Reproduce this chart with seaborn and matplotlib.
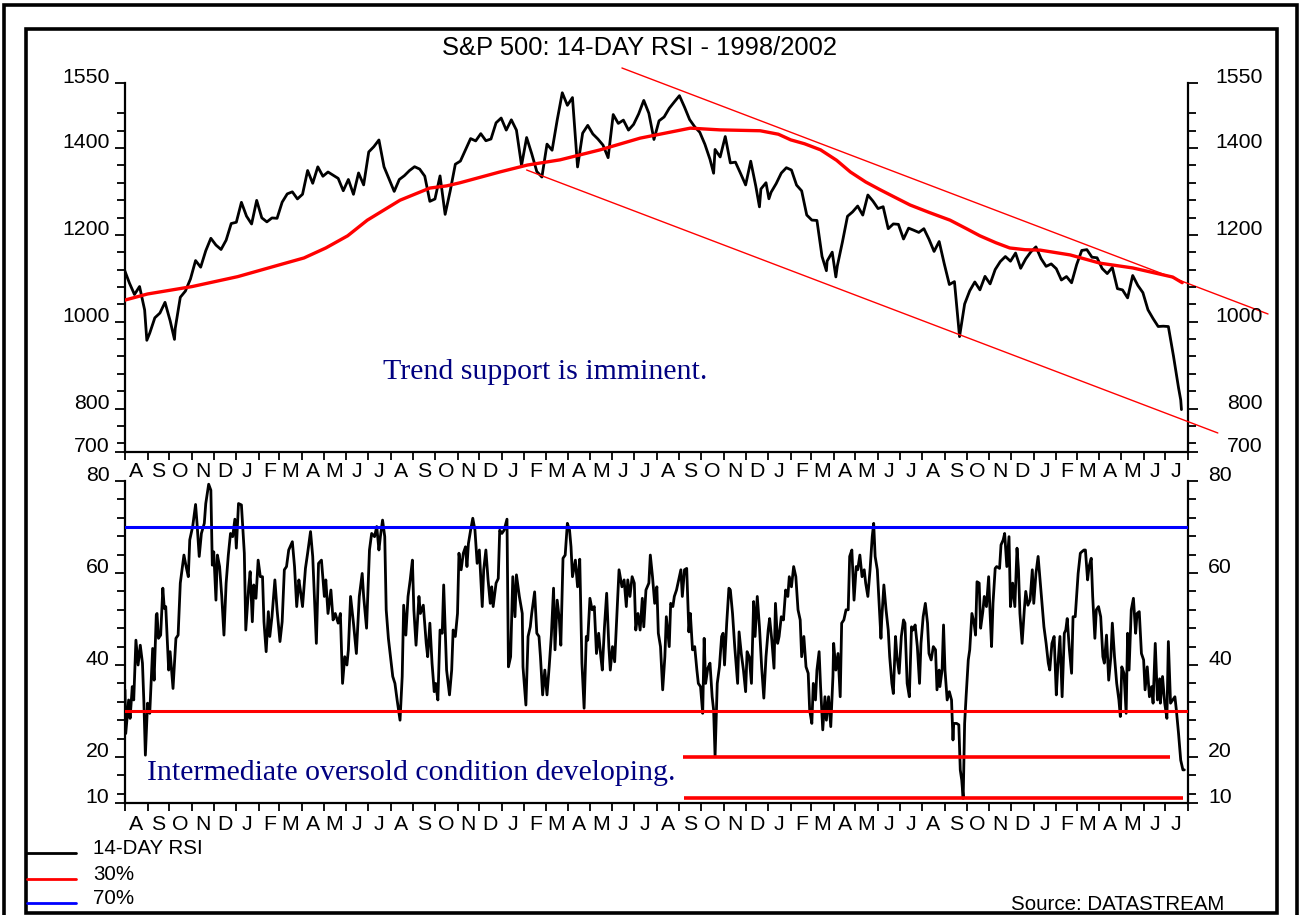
import numpy as np
import pandas as pd
import matplotlib
matplotlib.use("Agg")
import matplotlib.pyplot as plt
import matplotlib.dates as mdates
from matplotlib.ticker import FuncFormatter, NullFormatter
from matplotlib.patches import Rectangle
from matplotlib.lines import Line2D
import seaborn as sns

# ---------------- data ----------------
title = "S&P 500: 14-DAY RSI - 1998/2002"
axis_start = "1998-08-01"
axis_end = "2002-08-01"

# S&P 500 weekly (Friday) closes
spx_weekly_first = "1998-07-31"
spx_weekly_last = "2002-07-19"
spx_weekly = [
    1120.7, 1089.5, 1062.8, 1081.2, 1027.1, 973.9, 1009.1, 1020.1, 1044.8,
    1002.6, 984.4, 1056.4, 1070.7, 1098.7, 1141.0, 1125.7, 1163.6, 1192.3,
    1176.7, 1166.5, 1188.0, 1226.3,
    # 1999
    1229.2, 1275.1, 1243.3, 1225.2, 1279.6, 1239.4, 1230.1, 1239.2, 1238.3,
    1275.5, 1294.6, 1299.3, 1283.0, 1293.7, 1348.4, 1319.0, 1356.9, 1335.2,
    1345.0, 1337.8, 1330.3, 1301.8, 1327.8, 1293.6, 1342.8, 1315.3,
    1391.2, 1403.3, 1418.8, 1356.9, 1328.7, 1300.3, 1327.7, 1336.6, 1348.3,
    1357.2, 1351.7, 1335.4, 1277.4, 1282.8, 1336.0, 1247.4, 1301.7, 1362.9,
    1370.2, 1396.1, 1422.0, 1416.6, 1433.3, 1417.0, 1421.0, 1458.3, 1469.3,
    # 2000
    1441.5, 1465.2, 1441.4, 1360.2, 1424.4, 1387.1, 1346.1, 1333.4,
    1409.2, 1395.1, 1464.5, 1527.5, 1498.6, 1516.4, 1356.6, 1434.5, 1452.4,
    1432.6, 1420.9, 1406.9, 1378.0, 1477.3, 1456.9, 1464.5, 1441.5, 1454.6,
    1478.9, 1509.9, 1480.2, 1419.9, 1462.9, 1471.8, 1491.7, 1506.5,
    1520.8, 1494.5, 1465.8, 1449.1, 1436.5, 1408.9, 1374.2, 1396.9, 1379.6,
    1426.7, 1365.9, 1367.7, 1341.8, 1315.2, 1369.9, 1312.2, 1305.9, 1320.3,
    # 2001
    1298.4, 1318.3, 1342.5, 1354.9, 1349.5, 1314.8, 1301.5, 1245.9,
    1234.2, 1233.4, 1150.5, 1139.8, 1160.3, 1128.4, 1183.5, 1243.0, 1253.1,
    1266.6, 1245.7, 1292.0, 1277.9, 1260.7, 1265.0, 1214.4, 1225.4, 1224.4,
    1190.6, 1215.7, 1210.9, 1205.8, 1214.4, 1190.2, 1162.0, 1184.9, 1133.6,
    1085.8, 1092.5, 965.8, 1040.9, 1071.4, 1091.7, 1073.5, 1104.6,
    1087.2, 1120.3, 1138.7, 1150.3, 1139.5, 1158.3, 1123.1, 1144.9, 1161.0,
    # 2002
    1172.5, 1145.6, 1127.6, 1133.3, 1122.2, 1096.2, 1104.2, 1089.8,
    1131.8, 1164.3, 1166.2, 1148.7, 1147.4, 1122.7, 1111.0, 1125.2, 1076.3,
    1073.4, 1055.0, 1106.6, 1083.8, 1067.1, 1027.5, 1007.3, 989.1, 989.8,
    989.0, 921.4, 847.8,
]
# additional daily closes (extremes)
spx_extra_dates = ["1998-08-31", "1998-10-08", "2000-10-18", "2000-12-20",
                   "2001-01-02", "2001-03-22", "2001-04-04", "2001-09-17",
                   "2002-07-22", "2002-07-23"]
spx_extra = [957.3, 959.4, 1342.1, 1264.7, 1283.3, 1117.6, 1103.3, 1038.8,
             819.9, 797.7]

# 200-day moving average (red)
ma_dates = ["1998-08-01", "1998-09-01", "1998-11-01", "1999-01-03", "1999-03-01",
            "1999-04-04", "1999-05-04", "1999-06-03", "1999-06-30", "1999-08-14",
            "1999-09-24", "1999-10-17", "1999-11-04", "1999-12-29", "2000-02-05",
            "2000-03-21", "2000-05-15", "2000-07-09", "2000-09-16", "2000-10-27",
            "2000-12-21", "2001-01-15", "2001-02-01", "2001-02-20", "2001-03-14",
            "2001-04-05", "2001-04-24", "2001-05-15", "2001-06-04", "2001-06-25",
            "2001-07-15", "2001-08-10", "2001-09-08", "2001-10-01", "2001-10-19",
            "2001-11-10", "2001-11-29", "2001-12-20", "2002-01-10", "2002-02-20",
            "2002-04-02", "2002-05-17", "2002-07-11", "2002-07-24"]
ma_vals = [1050, 1064, 1081, 1104, 1131, 1147, 1170, 1198, 1234, 1280,
           1308, 1313, 1320, 1345, 1361, 1373, 1396, 1423, 1446, 1442,
           1440, 1432, 1419, 1410, 1396, 1372, 1345, 1322, 1304, 1286,
           1269, 1252, 1234, 1214, 1198, 1182, 1170, 1166, 1165, 1154,
           1135, 1124, 1103, 1090]

# trend channel
trend_upper_dates = ["2000-06-14", "2002-11-19"]
trend_upper_vals = [1584.6, 1017.9]
trend_lower_dates = ["2000-02-04", "2002-09-11"]
trend_lower_vals = [1349.6, 743.8]

# 14-day RSI (days since 1998-08-01, value)
rsi_day = [
    0, 1, 5, 7, 10, 12, 15, 18, 21, 24, 26, 28, 31, 34, 38, 40, 43, 44, 46, 49,
    52, 54, 56, 60, 62, 66, 70, 73, 76, 79, 81, 84, 87, 89, 93, 97, 99, 102, 105, 109,
    111, 115, 118, 120, 122, 125, 127, 130, 133, 136, 139, 142, 145, 148, 151, 153, 156, 160, 164, 166,
    170, 172, 175, 177, 180, 183, 186, 189, 191, 194, 197, 199, 202, 206, 209, 213, 216, 219, 222, 225,
    228, 230, 233, 236, 239, 241, 244, 248, 251, 255, 258, 263, 266, 270, 274, 276, 279, 283, 286, 289,
    293, 296, 299, 302, 305, 307, 310, 314, 318, 322, 326, 328, 332, 336, 339, 343, 346, 349, 351, 354,
    357, 359, 362,
    368, 371, 374, 378, 381, 383, 386, 389, 392, 395, 397, 400, 404, 406, 410, 414, 416, 419, 422, 425,
    427, 430, 433, 436, 438, 442, 446, 449, 451, 454, 457, 459, 462, 465, 468, 470, 472, 475, 478, 481,
    484, 487, 491, 493, 496, 499, 502, 504, 506, 510, 513, 515, 518, 521, 525, 527, 530, 533, 536, 538,
    542, 546, 547, 551, 554, 557, 559, 563, 566, 569, 571, 574, 577, 580, 583, 586, 589, 591, 594, 597,
    599, 602, 605, 608, 611, 613, 615, 619, 622, 625, 628, 631, 634, 636, 639, 642, 645, 648, 651, 654,
    656, 659, 662, 665, 667, 670, 673, 676, 679, 683, 686, 689, 691, 694, 697, 700, 702, 705, 708, 711,
    713, 716, 720, 722, 725, 728, 731, 733, 736, 739, 742, 744, 748,
    750, 753, 755, 758, 761, 764, 766, 769, 772, 775, 777, 780, 783, 786, 788, 791, 794, 796, 798, 801,
    804, 807, 809, 811, 814, 817, 820, 822, 824, 827, 830, 832, 835, 838, 842, 844, 847, 850, 853, 855,
    858, 861, 864, 866, 869, 872, 875, 878, 881, 884, 886, 889, 892, 894, 897, 899, 902, 905, 908, 911,
    913, 916, 919, 922, 925, 928, 930, 933, 936, 939, 941, 944, 946, 949, 951, 954, 956, 959, 962, 964,
    967, 970, 973, 974, 977, 980, 983, 985, 988, 991, 994, 996, 999, 1002, 1005, 1007, 1010, 1013, 1016, 1018,
    1021, 1024, 1027, 1029, 1031, 1034, 1037, 1039, 1040, 1043, 1046, 1049, 1051, 1054, 1056, 1059, 1061, 1064, 1067, 1070,
    1072, 1075, 1078, 1081, 1083, 1086, 1089, 1092, 1094, 1097, 1100, 1103, 1105, 1108, 1111, 1114, 1116, 1119,
    1120, 1123, 1125, 1127, 1130, 1133, 1136, 1138, 1139, 1143, 1146, 1148, 1150, 1152, 1154, 1156, 1159, 1161, 1164, 1167,
    1169, 1171, 1174, 1176, 1179, 1181, 1184, 1187, 1189, 1191, 1193, 1196, 1198, 1202, 1204, 1207, 1209, 1212, 1215, 1217,
    1220, 1223, 1226, 1228, 1230, 1233, 1236, 1238, 1241, 1244, 1247, 1249, 1252, 1255, 1258, 1260, 1263, 1266, 1269, 1271,
    1274, 1277, 1280, 1282, 1285, 1288, 1291, 1293, 1295, 1298, 1301, 1303, 1306, 1310, 1313, 1315, 1318, 1320, 1323, 1325,
    1328, 1330, 1333, 1335, 1338, 1341, 1344, 1346, 1349, 1352, 1355, 1357, 1360, 1363, 1366, 1368, 1370, 1373, 1376, 1378,
    1380, 1383, 1386, 1389, 1391, 1394, 1397, 1400, 1402, 1405, 1408, 1411, 1413, 1416, 1419, 1422, 1423, 1426, 1429, 1432,
    1434, 1437, 1440, 1443, 1445, 1448, 1451, 1454, 1456,
]
rsi_val = [
    34.6, 25.1, 32.4, 28.4, 35.3, 32.4, 45.4, 40.0, 44.3, 40.4, 31.7, 20.4, 31.7, 29.5, 43.6, 36.7, 50.9, 51.2, 45.8, 46.5,
    56.7, 52.3, 52.7, 38.9, 42.9, 34.9, 45.8, 46.5, 57.8, 61.4, 63.9, 61.4, 59.2, 67.2, 70.1, 74.9, 70.8, 63.6, 68.6, 70.8,
    75.1, 79.3, 78.0, 61.7, 64.6, 54.1, 63.9, 61.4, 54.9, 46.5, 57.8, 63.9, 68.6, 67.9, 71.7, 65.4, 75.1, 74.8, 64.3, 47.6,
    57.0, 60.3, 49.4, 57.4, 54.5, 62.8, 59.2, 59.2, 49.4, 42.9, 51.6, 46.2, 50.5, 58.5, 52.0, 45.1, 49.4, 60.7, 61.4, 65.0,
    66.1, 66.8, 61.4, 52.7, 58.5, 56.3, 52.7, 61.0, 64.3, 69.0, 63.6, 44.7, 62.1, 62.8, 54.9, 58.5, 51.2, 56.3, 49.8, 51.2,
    49.1, 51.2, 36.0, 41.8, 40.0, 43.3, 54.9, 49.1, 42.5, 54.9, 59.9, 54.9, 48.0, 65.0, 68.6, 67.9, 70.1, 65.0, 67.9, 71.5,
    67.9, 52.0, 45.8,
    37.5, 36.0, 32.4, 28.0, 37.5, 53.0, 46.5, 54.9, 58.5, 62.8, 52.0, 44.3, 54.9, 51.2, 53.0, 44.7, 41.8, 49.1, 40.4, 34.2,
    36.0, 32.4, 47.6, 46.9, 57.4, 38.9, 33.5, 38.9, 47.6, 46.2, 51.2, 64.3, 60.7, 64.3, 65.7, 61.4, 66.4, 69.3, 71.9, 69.3,
    62.1, 65.0, 52.7, 60.7, 65.0, 58.5, 53.4, 57.0, 52.7, 57.8, 58.8, 69.3, 68.6, 69.3, 71.7, 39.6, 41.8, 59.2, 50.5, 59.6,
    54.9, 51.2, 39.6, 31.3, 46.2, 48.3, 51.2, 55.9, 46.9, 46.2, 41.8, 33.5, 38.9, 33.5, 39.6, 46.5, 56.7, 43.3, 54.1, 49.8,
    44.3, 63.2, 63.9, 70.8, 69.3, 65.7, 59.2, 62.8, 57.0, 63.0, 40.4, 30.6, 46.2, 45.4, 54.5, 52.0, 52.7, 42.5, 46.9, 41.8,
    38.9, 48.3, 55.6, 44.0, 38.9, 44.0, 40.7, 50.5, 60.7, 57.0, 58.5, 52.7, 58.5, 54.9, 59.2, 57.8, 47.6, 51.2, 47.6, 54.5,
    48.3, 56.3, 57.8, 63.9, 59.2, 53.4, 57.0, 46.9, 44.0, 34.6, 41.8, 50.5, 44.0,
    53.4, 52.7, 54.9, 56.3, 58.5, 60.7, 54.9, 60.7, 61.0, 47.2, 51.2, 43.3, 44.0, 38.9, 36.0, 35.3, 29.5, 45.8, 36.0, 39.3,
    40.4, 33.1, 30.2, 20.1, 36.0, 39.6, 46.2, 46.9, 40.0, 49.1, 56.7, 56.3, 51.2, 44.0, 36.0, 47.2, 42.5, 38.9, 34.2, 42.9,
    41.8, 36.0, 53.8, 46.2, 54.9, 48.3, 39.6, 32.8, 41.8, 47.6, 50.1, 45.4, 39.3, 53.4, 44.7, 46.2, 50.5, 49.8, 56.3, 54.9,
    59.2, 57.0, 61.4, 59.2, 52.0, 49.8, 41.8, 46.2, 39.6, 38.2, 30.2, 27.3, 36.0, 32.4, 38.9, 42.9, 35.3, 25.9, 33.1, 28.0,
    33.1, 26.6, 37.5, 44.7, 38.9, 42.5, 33.1, 49.1, 49.8, 52.0, 52.0, 63.6, 65.0, 54.1, 61.4, 60.7, 63.9, 59.2, 60.7, 57.8,
    54.9, 60.7, 67.9, 70.8, 63.6, 60.7, 52.0, 45.8, 49.8, 57.4, 52.0, 47.6, 41.8, 36.0, 33.8, 46.2, 41.8, 38.2, 46.2, 49.8,
    49.1, 36.0, 33.1, 48.3, 47.6, 48.7, 44.0, 36.0, 44.7, 50.5, 53.4, 49.1, 42.5, 41.1, 44.0, 43.3, 34.6, 38.9,
    35.3, 38.9, 48.7, 38.9, 32.4, 34.2, 32.4, 23.7, 27.3, 27.3, 27.0, 17.2, 15.0, 11.0, 27.3, 33.1, 41.1, 43.3, 51.2, 49.1,
    46.5, 58.1, 57.8, 48.0, 51.6, 54.9, 52.7, 59.2, 51.2, 44.0, 53.4, 61.0, 61.4, 61.0, 66.1, 67.2, 68.6, 61.4, 67.9, 52.7,
    57.8, 52.7, 65.4, 60.7, 51.2, 44.7, 52.0, 56.0, 53.0, 54.1, 60.7, 53.4, 59.9, 63.6, 57.8, 54.1, 48.3, 44.7, 40.4, 38.9,
    44.7, 46.2, 33.5, 39.6, 46.2, 33.1, 46.9, 47.6, 50.1, 43.3, 38.2, 50.5, 50.5, 59.9, 64.3, 64.6, 65.0, 65.0, 58.5, 61.4,
    63.2, 54.9, 45.8, 52.0, 52.7, 50.5, 41.8, 40.4, 46.5, 36.7, 41.8, 49.1, 41.8, 36.0, 32.4, 28.8, 39.6, 38.2, 29.5, 46.9,
    38.9, 52.0, 54.5, 46.9, 51.2, 51.6, 42.5, 41.1, 34.6, 39.6, 33.1, 35.3, 31.7, 44.7, 32.4, 37.0, 31.7, 37.5, 31.7, 28.4,
    45.1, 31.7, 32.4, 33.1, 30.2, 25.1, 19.3, 17.2, 17.2,
]

rsi_overbought = 70
rsi_oversold = 30
zone20_level = 20
zone20_dates = ["2000-09-06", "2002-07-07"]
zone11_level = 11
zone11_dates = ["2000-09-07", "2002-07-25"]

price_ticks = [700, 800, 1000, 1200, 1400, 1550]
price_minor = list(range(720, 1520, 40))
price_lim = (700, 1550)
rsi_ticks = [10, 20, 40, 60, 80]
rsi_minor = list(range(12, 80, 4))
rsi_lim = (10, 80)

legend_labels = ["14-DAY RSI", "30%", "70%"]
legend_colors = ["#000000", "#ff0000", "#0000ff"]
note_top = "Trend support is imminent."
note_bottom = "Intermediate oversold condition developing."
source = "Source: DATASTREAM"

# ---------------- frames ----------------
weekly_dates = pd.date_range(spx_weekly_first, spx_weekly_last, freq="W-FRI")
spx_df = pd.concat([
    pd.DataFrame({"date": weekly_dates, "close": spx_weekly}),
    pd.DataFrame({"date": pd.to_datetime(spx_extra_dates), "close": spx_extra}),
]).sort_values("date").reset_index(drop=True)
ma_df = pd.DataFrame({"date": pd.to_datetime(ma_dates), "ma": ma_vals})
rsi_df = pd.DataFrame({
    "date": pd.Timestamp(axis_start) + pd.to_timedelta(rsi_day, unit="D"),
    "rsi": rsi_val,
})

# ---------------- figure ----------------
sns.set_style("ticks")
plt.rcParams["font.family"] = ["Liberation Sans", "DejaVu Sans"]
plt.rcParams["text.color"] = "black"
plt.rcParams["axes.labelcolor"] = "black"
plt.rcParams["xtick.color"] = "black"
plt.rcParams["ytick.color"] = "black"

W, H = 1300, 915
fig = plt.figure(figsize=(W / 100, H / 100), dpi=100)


def rect(l, t, r, b):
    return [l / W, 1 - b / H, (r - l) / W, (b - t) / H]


ax1 = fig.add_axes(rect(125, 83, 1188, 452))
ax2 = fig.add_axes(rect(125, 481, 1188, 803))

RED = "#ff0000"
BLUE = "#0000ff"

# top panel
sns.lineplot(data=spx_df, x="date", y="close", ax=ax1, color="black",
             linewidth=2.0, estimator=None, zorder=2)
sns.lineplot(data=ma_df, x="date", y="ma", ax=ax1, color=RED,
             linewidth=2.4, estimator=None, zorder=3)
for d, v in ((trend_upper_dates, trend_upper_vals), (trend_lower_dates, trend_lower_vals)):
    ax1.plot(pd.to_datetime(d), v, color=RED, lw=1.0, clip_on=False, zorder=4)

# bottom panel
sns.lineplot(data=rsi_df, x="date", y="rsi", ax=ax2, color="black",
             linewidth=2.0, estimator=None, zorder=2)
ax2.axhline(rsi_overbought, color=BLUE, lw=2.2, zorder=3)
ax2.axhline(rsi_oversold, color=RED, lw=2.2, zorder=3)
ax2.plot(pd.to_datetime(zone20_dates), [zone20_level] * 2, color=RED, lw=2.6, zorder=3,
         solid_capstyle="butt")
ax2.plot(pd.to_datetime(zone11_dates), [zone11_level] * 2, color=RED, lw=2.6, zorder=3,
         solid_capstyle="butt")

TICK_FS = 15.3


def style(ax, lim, majors, minors, right_pad):
    ax.set_xlim(pd.Timestamp(axis_start), pd.Timestamp(axis_end))
    ax.set_ylim(*lim)
    ax.set_xlabel("")
    ax.set_ylabel("")
    for s in ax.spines.values():
        s.set_visible(True)
        s.set_color("black")
        s.set_linewidth(1.6)
    ax.spines["top"].set_visible(False)
    # x axis: month boundaries + month initials between
    ax.xaxis.set_major_locator(mdates.MonthLocator())
    ax.xaxis.set_major_formatter(NullFormatter())
    ax.xaxis.set_minor_locator(mdates.MonthLocator(bymonthday=16))
    ax.xaxis.set_minor_formatter(
        FuncFormatter(lambda v, p: mdates.num2date(v).strftime("%b")[0]))
    ax.tick_params(axis="x", which="major", bottom=True, top=False, length=6,
                   width=1.3, direction="out", color="black")
    ax.tick_params(axis="x", which="minor", bottom=True, top=False, length=0,
                   labelsize=TICK_FS, labelcolor="black")
    # y axis left
    ax.set_yticks(majors, labels=[str(t) for t in majors], va="baseline")
    ax.set_yticks(minors, minor=True)
    ax.tick_params(axis="y", which="major", left=True, right=False, length=7.2,
                   width=1.3, direction="out", pad=4.0, labelsize=TICK_FS,
                   labelcolor="black", color="black")
    ax.tick_params(axis="y", which="minor", left=True, right=False, length=5.5,
                   width=1.3, direction="out", color="black")
    # y axis right (twin for separate label alignment)
    tw = ax.twinx()
    tw.set_ylim(*lim)
    for s in tw.spines.values():
        s.set_visible(False)
    tw.set_yticks(majors, labels=[str(t) for t in majors], va="baseline", ha="right")
    tw.set_yticks(minors, minor=True)
    tw.tick_params(axis="y", which="major", right=True, left=False, length=7.2,
                   width=1.3, direction="out", pad=right_pad, labelsize=TICK_FS,
                   labelcolor="black", color="black")
    tw.tick_params(axis="y", which="minor", right=True, left=False, length=5.5,
                   width=1.3, direction="out", color="black")
    return tw


style(ax1, price_lim, price_ticks, price_minor, right_pad=46.8)
style(ax2, rsi_lim, rsi_ticks, rsi_minor, right_pad=24.5)
ax1.tick_params(axis="x", which="minor", pad=7)
ax2.tick_params(axis="x", which="minor", pad=9)

# ---------------- text ----------------
fig.text(640 / W, 1 - 55 / H, title, ha="center", va="baseline", fontsize=18.4)
fig.text(383 / W, 1 - 379 / H, note_top, ha="left", va="baseline", fontsize=21.5,
         family=["Liberation Serif", "DejaVu Serif"], color="#000080")
fig.text(147 / W, 1 - 780 / H, note_bottom, ha="left", va="baseline", fontsize=21.5,
         family=["Liberation Serif", "DejaVu Serif"], color="#000080")
fig.text(1224 / W, 1 - 910 / H, source, ha="right", va="baseline", fontsize=14.8)

# legend
for i, (lab, col) in enumerate(zip(legend_labels, legend_colors)):
    y = [853, 879, 903][i]
    fig.add_artist(Line2D([27 / W, 76 / W], [1 - y / H] * 2, color=col, lw=2.0,
                          transform=fig.transFigure))
    fig.text(93 / W, 1 - (y + 1) / H, lab, ha="left", va="baseline", fontsize=14.8)

# frames
fig.add_artist(Rectangle((4 / W, -0.05), (1297 - 4) / W, 1.05 - 5 / H, fill=False,
                         lw=2.6, ec="black", transform=fig.transFigure))
fig.add_artist(Rectangle((26 / W, 1 - 913 / H), (1277 - 26) / W, (913 - 29) / H,
                         fill=False, lw=2.6, ec="black", transform=fig.transFigure))

fig.savefig("out.png", dpi=100)
